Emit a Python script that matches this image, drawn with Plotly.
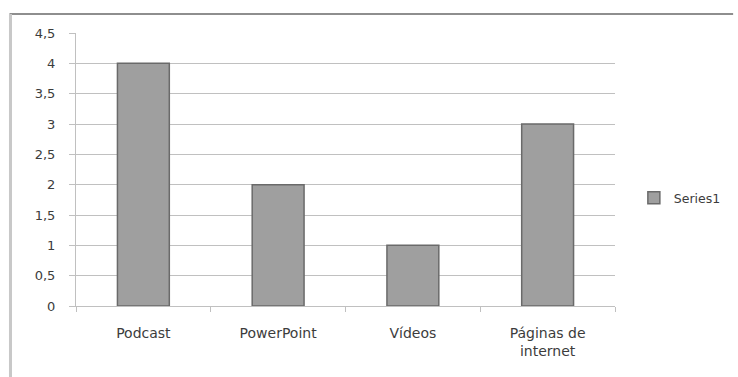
import plotly.graph_objects as go

# Chart data
categories = ["Podcast", "PowerPoint", "Vídeos", "Páginas de<br>internet"]
values = [4, 2, 1, 3]
series_name = "Series1"
y_ticks = [0, 0.5, 1, 1.5, 2, 2.5, 3, 3.5, 4, 4.5]

W, H = 738, 377
L, R, T, B = 76, 119, 33, 71
pw, ph = W - L - R, H - T - B

def px_x(x):
    return (x - L) / pw

def px_y(y):
    return (H - B - y) / ph

FONT = "DejaVu Sans"
TEXT = "#3c3c3c"
GRID = "#c0c0c0"

fig = go.Figure()
fig.add_trace(go.Bar(
    x=categories,
    y=values,
    name=series_name,
    width=0.385,
    marker=dict(color="#9f9f9f", line=dict(color="#6a6a6a", width=1.5)),
    showlegend=True,
))

fig.update_layout(
    width=W,
    height=H,
    margin=dict(l=L, r=R, t=T, b=B, pad=0),
    paper_bgcolor="white",
    plot_bgcolor="white",
    separators=",.",
    font=dict(family=FONT, size=13, color=TEXT),
    showlegend=True,
    legend=dict(
        x=px_x(638), xanchor="left",
        y=px_y(198), yanchor="middle",
        font=dict(family=FONT, size=12.5, color=TEXT),
        bgcolor="rgba(0,0,0,0)",
        itemwidth=30,
    ),
    xaxis=dict(
        showline=True, linecolor=GRID, linewidth=1,
        ticks="outside", tickson="boundaries", ticklen=5, tickcolor=GRID,
        showgrid=False,
        tickfont=dict(family=FONT, size=14, color=TEXT),
        ticklabelstandoff=14,
    ),
    yaxis=dict(
        range=[0, 4.5],
        tickvals=y_ticks,
        showline=True, linecolor=GRID, linewidth=1,
        ticks="outside", ticklen=6, tickcolor=GRID,
        showgrid=True, gridcolor=GRID, gridwidth=1.3,
        zeroline=False,
        tickfont=dict(family=FONT, size=13, color=TEXT),
        ticklabelstandoff=11,
    ),
    shapes=[
        # chart frame: top and left edges
        dict(type="line", xref="paper", yref="paper",
             x0=px_x(9), x1=px_x(738), y0=px_y(14), y1=px_y(14),
             line=dict(color="#8e8e8e", width=2), layer="above"),
        dict(type="line", xref="paper", yref="paper",
             x0=px_x(10), x1=px_x(10), y0=px_y(14), y1=px_y(377),
             line=dict(color="#c8c8c8", width=3), layer="above"),
    ],
)

fig.write_html("out.html")
